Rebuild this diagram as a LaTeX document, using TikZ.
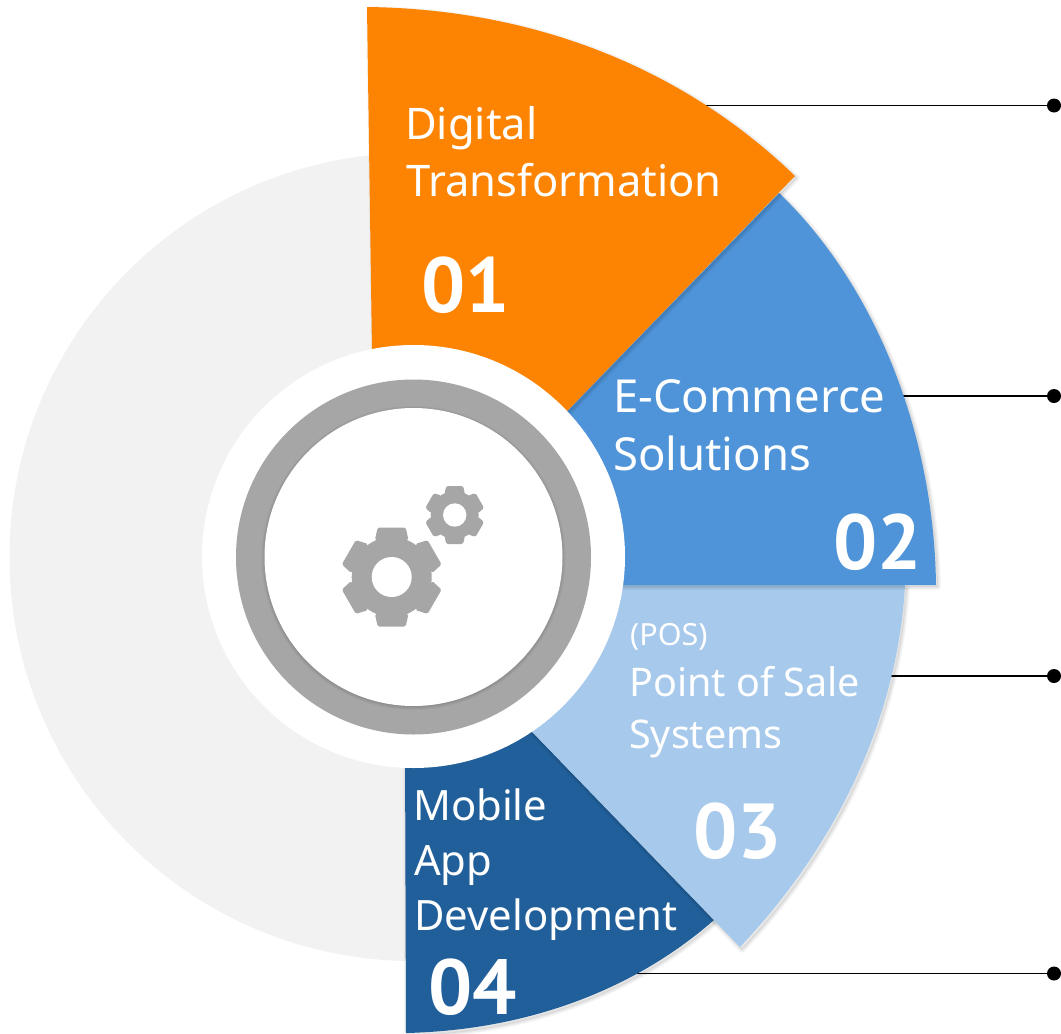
\documentclass[tikz,border=0pt]{standalone}
\usepackage{fontspec}
\setmainfont{Noto Sans}
\newfontfamily\numfont{PT Sans}
\usetikzlibrary{calc}
\definecolor{cbg}{HTML}{F2F2F2}
\definecolor{corange}{HTML}{FD8402}
\definecolor{cblue}{HTML}{4F94D9}
\definecolor{clight}{HTML}{A6C9EC}
\definecolor{cdark}{HTML}{215F9A}
\definecolor{cring}{HTML}{A6A6A6}
\tikzset{
  x=1pt,y=-1pt,
  lbl/.style={anchor=base west,inner sep=0pt,text=white},
  lblo/.style={lbl,font=\fontsize{43.5}{43.5}\selectfont},
  lblb/.style={lbl,font=\fontsize{45.5}{45.5}\selectfont},
  lblp/.style={lbl,font=\fontsize{39.5}{39.5}\selectfont},
  lblq/.style={lbl,font=\fontsize{30.5}{30.5}\selectfont},
  lbld/.style={lbl,font=\fontsize{41.8}{41.8}\selectfont},
  num/.style={anchor=base west,inner sep=0pt,text=white,font=\numfont\bfseries\fontsize{78}{78}\selectfont},
  dotn/.style={circle,fill=black,inner sep=0pt,minimum size=14pt},
  conn/.style={draw=black,line width=1.1pt},
}
% soft shadow for the path given as argument
\newcommand{\softshadow}[2]{%
  \begin{scope}[shift={(#1)}]
    \foreach \w in {6,4,2}{\draw[black,opacity=.03,line width=\w pt,line join=round] #2;}
    \fill[black,opacity=.06] #2;
  \end{scope}}
\newcommand{\gearshape}[6]{% x y tip body toothwidth hole
  \begin{scope}[shift={(#1,#2)}]
    \fill[cring] (0,0) circle[radius=#4];
    \foreach \a in {0,60,...,300}{
      \fill[cring,rotate=\a,rounded corners=1.6pt] (-#5*.60,-#4+3) -- (-#5*.5,-#3) -- (#5*.5,-#3) -- (#5*.60,-#4+3) -- cycle;
    }
    \fill[white] (0,0) circle[radius=#6];
  \end{scope}}
\def\pathB{(540,439) -- (779,193) .. controls (873,283) and (934,430) .. (936,585) -- (600,585) -- cycle}
\def\pathL{(905,585) .. controls (897,725) and (832,850) .. (740,947) -- (510,709) -- (600,585) -- cycle}
\def\pathD{(405,740) -- (510,709) -- (714,920) .. controls (640,985) and (535,1030) .. (406,1033) -- cycle}
\def\pathO{(367,7) .. controls (530,9) and (680,65) .. (795,176) -- (540,439) -- (373,420) -- cycle}
\begin{document}
\begin{tikzpicture}
\useasboundingbox (0,0) rectangle (1061,1034);
\fill[white] (0,0) rectangle (1061,1034);
% background disc
\fill[cbg] (413.5,557) circle[radius=404];
% connectors
\node[dotn] (d1) at (1054,105.5) {};
\node[dotn] (d2) at (1054,396) {};
\node[dotn] (d3) at (1054,676) {};
\node[dotn] (d4) at (1054,973.5) {};
\coordinate (s1) at (690,105.5);
\coordinate (s2) at (890,396);
\coordinate (s3) at (880,676);
\coordinate (s4) at (620,973.5);
\draw[conn] (s1) -- (d1);
\draw[conn] (s2) -- (d2);
\draw[conn] (s3) -- (d3);
\draw[conn] (s4) -- (d4);
% sectors
\softshadow{1,3}{\pathD}
\fill[cdark] \pathD;
\softshadow{2,3}{\pathL}
\fill[clight] \pathL;
\softshadow{2,2}{\pathB}
\fill[cblue] \pathB;
\softshadow{2,2}{\pathO}
\fill[corange] \pathO;
% hub
\fill[white] (413.5,556.5) circle[radius=211.5];
\fill[cring] (413.5,557) circle[radius=177.5];
\softshadow{0,1}{(413.5,557) circle[radius=149]}
\fill[white] (413.5,557) circle[radius=149];
% gears
\gearshape{391.7}{577}{49.5}{40}{28}{20}
\gearshape{454.7}{515}{29}{24}{17}{11.7}
% labels
\node[lblo] (t1a) at (405,139) {Digital};
\node[lblo] (t1b) at (406,196) {Transformation};
\node[num] (n1) at (421,312) {01};
\node[lblb] (t2a) at (613,412) {E-Commerce};
\node[lblb] (t2b) at (613,470) {Solutions};
\node[num] (n2) at (833,569) {02};
\node[lblq] (t3a) at (630,645) {(POS)};
\node[lblp] (t3b) at (629,696) {Point of Sale};
\node[lblp] (t3c) at (629,748) {Systems};
\node[num] (n3) at (693,858) {03};
\node[lbld] (t4a) at (413,820) {Mobile};
\node[lbld] (t4b) at (414,875) {App};
\node[lbld] (t4c) at (414,930) {Development};
\node[num] (n4) at (428,1014) {04};
\end{tikzpicture}
\end{document}
